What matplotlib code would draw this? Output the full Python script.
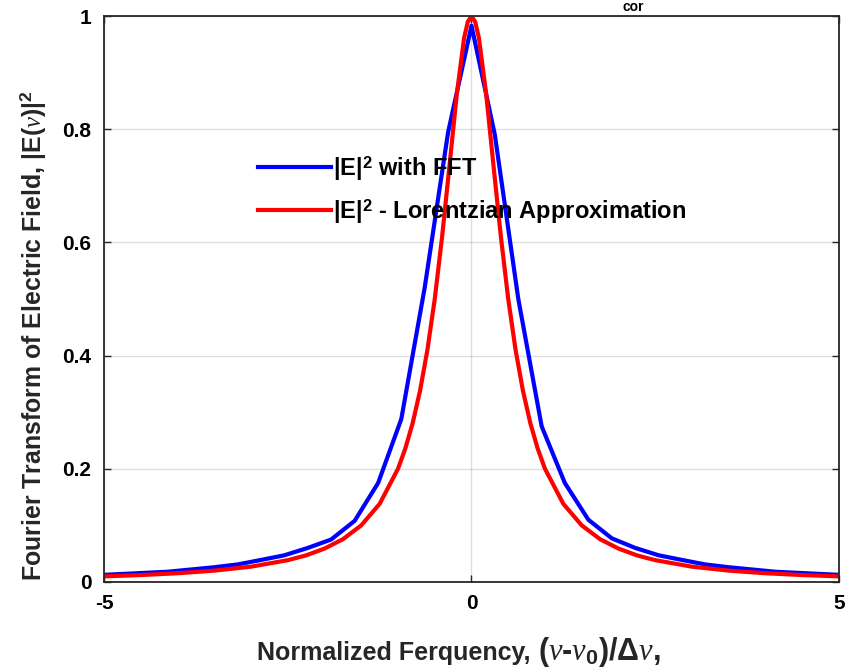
import matplotlib.pyplot as plt
import numpy as np

plt.rcParams['font.family'] = ['Liberation Sans', 'DejaVu Sans']
plt.rcParams['font.weight'] = 'bold'
plt.rcParams['axes.labelweight'] = 'bold'
plt.rcParams['mathtext.fontset'] = 'custom'
plt.rcParams['mathtext.rm'] = 'Liberation Sans:bold'
plt.rcParams['mathtext.bf'] = 'Liberation Sans:bold'
plt.rcParams['mathtext.it'] = 'Liberation Serif:italic:weight=normal'

fft_x = [-5.09, -4.77, -4.46, -4.14, -3.82, -3.50, -3.18, -2.86, -2.55, -2.23,
         -1.91, -1.59, -1.27, -0.955, -0.637, -0.318, 0.0,
         0.318, 0.637, 0.955, 1.27, 1.59, 1.91, 2.23, 2.55, 2.86,
         3.18, 3.50, 3.82, 4.14, 4.46, 4.77, 5.09]
fft_y = [0.012, 0.014, 0.016, 0.018, 0.022, 0.026, 0.031, 0.039, 0.047, 0.060,
         0.075, 0.108, 0.175, 0.288, 0.52, 0.795, 0.983,
         0.790, 0.500, 0.275, 0.175, 0.110, 0.077, 0.060, 0.047, 0.039,
         0.031, 0.026, 0.022, 0.018, 0.016, 0.014, 0.012]

# --- Lorentzian approximation ---
lor_x = [-5, -4.5, -4, -3.5, -3, -2.5, -2.25, -2, -1.75, -1.5, -1.25, -1,
         -0.9, -0.8, -0.7, -0.6, -0.5, -0.4, -0.3, -0.2, -0.1, -0.05, 0,
         0.05, 0.1, 0.2, 0.3, 0.4, 0.5, 0.6, 0.7, 0.8, 0.9,
         1, 1.25, 1.5, 1.75, 2, 2.25, 2.5, 3, 3.5, 4, 4.5, 5]
lor_y = [0.0099, 0.0122, 0.0154, 0.020, 0.027, 0.0385, 0.047, 0.059, 0.0755, 0.100, 0.138, 0.200,
         0.236, 0.281, 0.338, 0.410, 0.500, 0.610, 0.735, 0.862, 0.962, 0.990, 1.000,
         0.990, 0.962, 0.862, 0.735, 0.610, 0.500, 0.410, 0.338, 0.281, 0.236,
         0.200, 0.138, 0.100, 0.0755, 0.059, 0.047, 0.0385, 0.027, 0.020, 0.0154, 0.0122, 0.0099]

xticks = [-5, 0, 5]
yticks = [0, 0.2, 0.4, 0.6, 0.8, 1]

fig = plt.figure(figsize=(8.5, 6.72), dpi=100)
ax = fig.add_axes([0.1224, 0.134, 0.8646, 0.842])

ax.plot(fft_x, fft_y, color='#0000ff', lw=3, label=r'|E|$^{2}$ with FFT')
ax.plot(lor_x, lor_y, color='#ff0000', lw=3, label=r'|E|$^{2}$ - Lorentzian Approximation')

ax.set_xlim(-5, 5); ax.set_ylim(0, 1)
ax.set_xticks(xticks); ax.set_yticks(yticks)
ax.set_xticklabels(['-5', '0', '5']); ax.set_yticklabels(['0', '0.2', '0.4', '0.6', '0.8', '1'])
ax.tick_params(direction='in', length=5, width=1, labelsize=15, pad=9,
               top=True, right=True, color='#262626')
ax.grid(True, color='#262626', alpha=0.15, lw=1)
for s in ax.spines.values():
    s.set_color('#262626'); s.set_linewidth(1.3)

# x label: plain part plus a larger math part, as in the original
ax.text(0.59, -0.138, 'Normalized Ferquency, ', transform=ax.transAxes,
        ha='right', va='baseline', fontsize=18, fontweight='bold', color='#262626')
ax.text(0.59, -0.138, r'$(\nu$-$\nu_0)/\Delta\nu$,', transform=ax.transAxes,
        ha='left', va='baseline', fontsize=22, fontweight='bold', color='#262626')
ax.set_ylabel(r'Fourier Transform of Electric Field, |E($\nu$)|$^2$', fontsize=17.9,
              fontweight='bold', color='#262626')
ax.yaxis.set_label_coords(-0.076, 0.436)

ax.legend(loc='upper left', bbox_to_anchor=(0.18, 0.794), frameon=False, fontsize=17,
          handlelength=3.1, handletextpad=0.1, labelspacing=0.6)

# top title is clipped in the original; only the subscript shows
fig.text(0.745, 1.0, 'cor', fontsize=10, ha='center', va='top')

fig.savefig('out.png', dpi=100)
